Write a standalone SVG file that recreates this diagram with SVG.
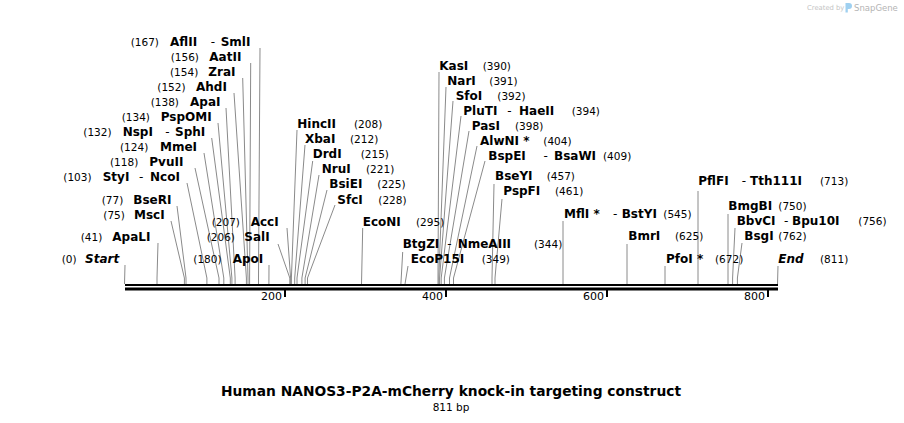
<svg xmlns="http://www.w3.org/2000/svg" width="904" height="423" viewBox="0 0 904 423">
<style>
text{font-family:"DejaVu Sans","Verdana",sans-serif;fill:#000}
.n{font-size:12px;font-weight:bold}
.i{font-size:12px;font-weight:bold;font-style:italic}
.p{font-size:10.5px}
.d{font-size:12px}
.t{font-size:11px}
#connectors polyline{fill:none;stroke:#8a8a8a;stroke-width:1}
</style>
<rect width="904" height="423" fill="#fff"/>
<g id="logo">
<text x="807" y="10" style="font-size:6.8px;fill:#c4c4c4">Created by</text>
<path d="M845.5,3 h3.5 a3,3 0 0 1 0,6 h-1.2 v3.5 h-2.3 z" fill="#9fd0f0"/>
<text x="854" y="11" style="font-size:8.5px;fill:#b4b4b4">SnapGene</text>
</g>
<g id="axis">
<rect x="125" y="284" width="653" height="2" fill="#000"/>
<rect x="125" y="287.5" width="653" height="3" fill="#000"/>
<rect x="284" y="290" width="2" height="7" fill="#000"/>
<rect x="445" y="290" width="2" height="7" fill="#000"/>
<rect x="606" y="290" width="2" height="7" fill="#000"/>
<rect x="767" y="290" width="2" height="7" fill="#000"/>
<text class="t" x="282" y="300" text-anchor="end">200</text>
<text class="t" x="443" y="300" text-anchor="end">400</text>
<text class="t" x="604" y="300" text-anchor="end">600</text>
<text class="t" x="765" y="300" text-anchor="end">800</text>
</g>
<g id="connectors">
<polyline points="260,48 258.5,278 258.5,284"/>
<polyline points="250.7,63 249.6,278 249.6,284"/>
<polyline points="242.7,78 248,278 248,284"/>
<polyline points="234,93 246.4,278 246.4,284"/>
<polyline points="226,108 235.1,278 235.1,284"/>
<polyline points="218,123 231.9,278 231.9,284"/>
<polyline points="211.7,138 230.3,278 230.3,284"/>
<polyline points="204,153 223.8,278 223.8,284"/>
<polyline points="195,168 219,278 219,284"/>
<polyline points="187,183 206.9,278 206.9,284"/>
<polyline points="177,206 186,278 186,284"/>
<polyline points="171,221 184.4,278 184.4,284"/>
<polyline points="158,243 157,278 157,284"/>
<polyline points="125,265 124.5,284"/>
<polyline points="287,228 290.6,278 290.6,284"/>
<polyline points="278,244 289.8,278 289.8,284"/>
<polyline points="269,265 268.9,284"/>
<polyline points="297,130 291.4,278 291.4,284"/>
<polyline points="305,145 294.7,278 294.7,284"/>
<polyline points="312.7,161 297,278 297,284"/>
<polyline points="319,175 301.9,278 301.9,284"/>
<polyline points="327,190 305.1,278 305.1,284"/>
<polyline points="335,205 307.5,278 307.5,284"/>
<polyline points="362.7,228 361.5,284"/>
<polyline points="402.7,252 400.9,284"/>
<polyline points="408,266 405,284"/>
<polyline points="439,72 438,278 438,284"/>
<polyline points="446,87 438.8,278 438.8,284"/>
<polyline points="453,101 439.6,278 439.6,284"/>
<polyline points="461,116 441.2,278 441.2,284"/>
<polyline points="469,131 444.4,278 444.4,284"/>
<polyline points="477,146 449.5,278 449.5,284"/>
<polyline points="485,161 453.5,278 453.5,284"/>
<polyline points="494,184 492,278 492,284"/>
<polyline points="502,199 495,278 495,284"/>
<polyline points="563,221 563,284"/>
<polyline points="627,244 627,284"/>
<polyline points="665,266 665,284"/>
<polyline points="698,191 698,284"/>
<polyline points="728,214 728,284"/>
<polyline points="735,228 732.6,278 732.6,284"/>
<polyline points="742,243 737.4,278 737.4,284"/>
<polyline points="778,266 777.5,284"/>
</g>
<g id="AflII"><text class="p" x="130.7" y="46">(167)</text><text class="n" x="170" y="46">AflII</text><text class="d" x="210.7" y="46">-</text><text class="n" x="220.7" y="46">SmlI</text></g>
<g id="AatII"><text class="p" x="170.7" y="61">(156)</text><text class="n" x="209.3" y="61">AatII</text></g>
<g id="ZraI"><text class="p" x="170" y="76">(154)</text><text class="n" x="208.3" y="76">ZraI</text></g>
<g id="AhdI"><text class="p" x="157.3" y="91">(152)</text><text class="n" x="196" y="91">AhdI</text></g>
<g id="ApaI"><text class="p" x="150.7" y="106">(138)</text><text class="n" x="190" y="106">ApaI</text></g>
<g id="PspOMI"><text class="p" x="121.7" y="121">(134)</text><text class="n" x="160.7" y="121">PspOMI</text></g>
<g id="NspI"><text class="p" x="83.3" y="136">(132)</text><text class="n" x="122.7" y="136">NspI</text><text class="d" x="165.3" y="136">-</text><text class="n" x="175" y="136">SphI</text></g>
<g id="MmeI"><text class="p" x="120" y="151">(124)</text><text class="n" x="160" y="151">MmeI</text></g>
<g id="PvuII"><text class="p" x="110" y="166">(118)</text><text class="n" x="149.3" y="166">PvuII</text></g>
<g id="StyI"><text class="p" x="63.3" y="181">(103)</text><text class="n" x="102.7" y="181">StyI</text><text class="d" x="139" y="181">-</text><text class="n" x="150" y="181">NcoI</text></g>
<g id="BseRI"><text class="p" x="101.7" y="204">(77)</text><text class="n" x="133.3" y="204">BseRI</text></g>
<g id="MscI"><text class="p" x="103.3" y="219">(75)</text><text class="n" x="134" y="219">MscI</text></g>
<g id="ApaLI"><text class="p" x="80.7" y="241">(41)</text><text class="n" x="112.3" y="241">ApaLI</text></g>
<g id="Start"><text class="p" x="61.7" y="263">(0)</text><text class="i" x="85" y="263">Start</text></g>
<g id="AccI"><text class="p" x="211.7" y="226">(207)</text><text class="n" x="250.7" y="226">AccI</text></g>
<g id="SalI"><text class="p" x="206.7" y="241">(206)</text><text class="n" x="244.3" y="241">SalI</text></g>
<g id="ApoI"><text class="p" x="193.3" y="263">(180)</text><text class="n" x="232.7" y="263">ApoI</text></g>
<g id="HincII"><text class="n" x="297.3" y="128">HincII</text><text class="p" x="354" y="128">(208)</text></g>
<g id="XbaI"><text class="n" x="305" y="143">XbaI</text><text class="p" x="350" y="143">(212)</text></g>
<g id="DrdI"><text class="n" x="312.7" y="158">DrdI</text><text class="p" x="360.7" y="158">(215)</text></g>
<g id="NruI"><text class="n" x="321.7" y="173">NruI</text><text class="p" x="366" y="173">(221)</text></g>
<g id="BsiEI"><text class="n" x="329.3" y="188">BsiEI</text><text class="p" x="377.3" y="188">(225)</text></g>
<g id="SfcI"><text class="n" x="337.3" y="203.5">SfcI</text><text class="p" x="378.3" y="203.5">(228)</text></g>
<g id="EcoNI"><text class="n" x="362.7" y="226">EcoNI</text><text class="p" x="416" y="226">(295)</text></g>
<g id="BtgZI"><text class="n" x="402.7" y="248">BtgZI</text><text class="d" x="447.3" y="248">-</text><text class="n" x="457.7" y="248">NmeAIII</text><text class="p" x="534" y="248">(344)</text></g>
<g id="EcoP15I"><text class="n" x="410.7" y="263">EcoP15I</text><text class="p" x="481.7" y="263">(349)</text></g>
<g id="KasI"><text class="n" x="439.3" y="70">KasI</text><text class="p" x="482.7" y="70">(390)</text></g>
<g id="NarI"><text class="n" x="447.3" y="85">NarI</text><text class="p" x="489.3" y="85">(391)</text></g>
<g id="SfoI"><text class="n" x="455.7" y="100">SfoI</text><text class="p" x="497.3" y="100">(392)</text></g>
<g id="PluTI"><text class="n" x="463.3" y="115">PluTI</text><text class="d" x="507.3" y="115">-</text><text class="n" x="519" y="115">HaeII</text><text class="p" x="571.7" y="115">(394)</text></g>
<g id="PasI"><text class="n" x="471.7" y="130">PasI</text><text class="p" x="515" y="130">(398)</text></g>
<g id="AlwNI"><text class="n" x="480" y="145">AlwNI *</text><text class="p" x="543.3" y="145">(404)</text></g>
<g id="BspEI"><text class="n" x="488.3" y="160">BspEI</text><text class="d" x="543.5" y="160">-</text><text class="n" x="554" y="160">BsaWI</text><text class="p" x="603" y="160">(409)</text></g>
<g id="BseYI"><text class="n" x="495" y="180">BseYI</text><text class="p" x="546.7" y="180">(457)</text></g>
<g id="PspFI"><text class="n" x="503.3" y="195">PspFI</text><text class="p" x="555" y="195">(461)</text></g>
<g id="MflI"><text class="n" x="564" y="218">MflI *</text><text class="d" x="613" y="218">-</text><text class="n" x="621.7" y="218">BstYI</text><text class="p" x="663.3" y="218">(545)</text></g>
<g id="BmrI"><text class="n" x="628.3" y="240">BmrI</text><text class="p" x="675" y="240">(625)</text></g>
<g id="PfoI"><text class="n" x="666" y="263">PfoI *</text><text class="p" x="715" y="263">(672)</text></g>
<g id="PflFI"><text class="n" x="698.3" y="185">PflFI</text><text class="d" x="741.7" y="185">-</text><text class="n" x="750" y="185">Tth111I</text><text class="p" x="820" y="185">(713)</text></g>
<g id="BmgBI"><text class="n" x="728.3" y="209.5">BmgBI</text><text class="p" x="778.3" y="209.5">(750)</text></g>
<g id="BbvCI"><text class="n" x="736.7" y="225">BbvCI</text><text class="d" x="784" y="225">-</text><text class="n" x="792" y="225">Bpu10I</text><text class="p" x="858.3" y="225">(756)</text></g>
<g id="BsgI"><text class="n" x="744.3" y="240">BsgI</text><text class="p" x="778.3" y="240">(762)</text></g>
<g id="End"><text class="i" x="778.3" y="263">End</text><text class="p" x="820" y="263">(811)</text></g>
<g id="title">
<text x="451" y="396" text-anchor="middle" style="font-size:13.8px;font-weight:bold">Human NANOS3-P2A-mCherry knock-in targeting construct</text>
<text x="451" y="411" text-anchor="middle" style="font-size:10.5px">811 bp</text>
</g>
</svg>
